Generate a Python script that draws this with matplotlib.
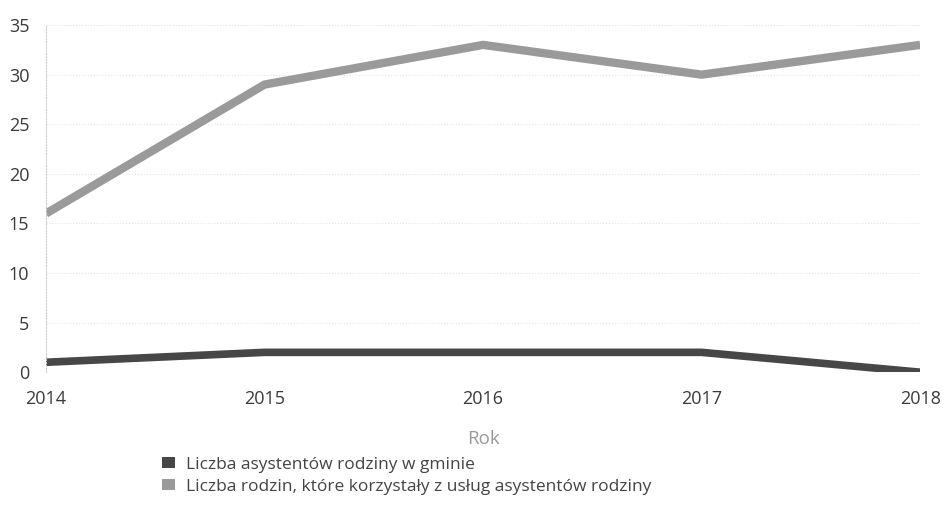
import matplotlib
matplotlib.use("Agg")
from matplotlib import pyplot as plt
from matplotlib.patches import Patch

years = [2014, 2015, 2016, 2017, 2018]
asystenci = [1, 2, 2, 2, 0]
rodziny = [16, 29, 33, 30, 33]

labels = ["Liczba asystentów rodziny w gminie",
          "Liczba rodzin, które korzystały z usług asystentów rodziny"]
colors = ["#474747", "#9a9a9a"]

plt.rcParams['font.family'] = ['Open Sans', 'DejaVu Sans']

fig = plt.figure(figsize=(9.47, 5.22), dpi=100)
ax = fig.add_axes([0.0486, 0.287, 0.923, 0.665])

ax.plot(years, asystenci, color=colors[0], lw=5.5, solid_capstyle='butt')
ax.plot(years, rodziny, color=colors[1], lw=6, solid_capstyle='butt')

ax.set_xlim(2014, 2018)
ax.set_ylim(0, 35)
ax.set_xticks(years)
ax.set_yticks(range(0, 36, 5))

for s in ["top", "right", "bottom"]:
    ax.spines[s].set_visible(False)
ax.spines["left"].set_color("#cccccc")
ax.spines["left"].set_linestyle(":")
ax.spines["left"].set_linewidth(0.8)

ax.yaxis.grid(True, color="#e4e4e4", linestyle=":", linewidth=0.8)
ax.set_axisbelow(True)
ax.tick_params(length=0, labelsize=13, colors="#3a3a3a")
ax.tick_params(axis="y", pad=12)
ax.tick_params(axis="x", pad=13)

ax.set_xlabel("Rok", fontsize=13.5, color="#999999", labelpad=16)

handles = [Patch(facecolor=c, edgecolor='none') for c in colors]
fig.legend(handles, labels, loc="upper left", bbox_to_anchor=(0.162, 0.142),
           frameon=False, fontsize=12.5, handletextpad=0.6, labelspacing=0.35,
           labelcolor="#444444", borderpad=0, handlelength=0.75, handleheight=0.55)

fig.savefig("out.png", dpi=100)
